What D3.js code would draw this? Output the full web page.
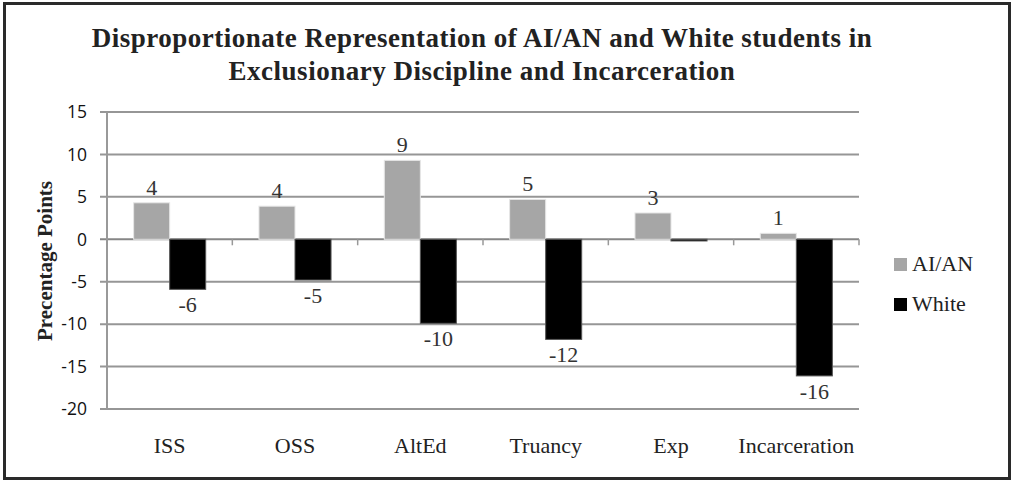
<!DOCTYPE html>
<html>
<head>
<meta charset="utf-8">
<script src="https://cdn.jsdelivr.net/npm/d3@7"></script>
<style>
  body { margin: 0; background: #fff; }
  svg { display: block; }
</style>
</head>
<body>
<svg id="chart" width="1014" height="481"></svg>
<script>
// data
const categories = ["ISS", "OSS", "AltEd", "Truancy", "Exp", "Incarceration"];
const seriesNames = ["AI/AN", "White"];
const aianValues = [4.3, 3.9, 9.3, 4.7, 3.1, 0.7];
const whiteValues = [-5.9, -4.8, -9.9, -11.8, -0.2, -16.1];
const aianLabels = ["4", "4", "9", "5", "3", "1"];
const whiteLabels = ["-6", "-5", "-10", "-12", "", "-16"];
const yTicks = [15, 10, 5, 0, -5, -10, -15, -20];
const seriesColors = ["#a6a6a6", "#000000"];

const serif = "'Liberation Serif', 'DejaVu Serif', serif";
const sans = "'Open Sans', 'Liberation Sans', sans-serif";

const svg = d3.select("#chart");

// outer frame
svg.append("rect")
  .attr("x", 4.5).attr("y", 3.5)
  .attr("width", 1005).attr("height", 475)
  .attr("fill", "#fff")
  .attr("stroke", "#2a2a2a")
  .attr("stroke-width", 3);

const plot = { left: 107, right: 859, top: 112, bottom: 409 };

const y = d3.scaleLinear().domain([-20, 15]).range([plot.bottom, plot.top]);
const x0 = d3.scaleBand().domain(categories).range([plot.left, plot.right]).paddingInner(0.425).paddingOuter(0.2125);
const x1 = d3.scaleBand().domain(seriesNames).range([0, x0.bandwidth()]);

// gridlines
svg.append("g")
  .selectAll("line")
  .data(yTicks)
  .join("line")
  .attr("x1", plot.left - 7)
  .attr("x2", plot.right)
  .attr("y1", d => y(d))
  .attr("y2", d => y(d))
  .attr("stroke", d => d === 0 ? "#868686" : "#969696")
  .attr("stroke-width", 2);

// left axis line
svg.append("line")
  .attr("x1", plot.left).attr("x2", plot.left)
  .attr("y1", plot.top).attr("y2", plot.bottom)
  .attr("stroke", "#999").attr("stroke-width", 2);

// y tick labels
svg.append("g")
  .selectAll("text")
  .data(yTicks)
  .join("text")
  .attr("x", 87)
  .attr("y", d => y(d))
  .attr("dy", "0.36em")
  .attr("text-anchor", "end")
  .style("font-family", sans)
  .style("font-size", "17.5px")
  .style("fill", "#111")
  .text(d => d);

// category ticks on zero line
const step = (plot.right - plot.left) / categories.length;
svg.append("g")
  .selectAll("line")
  .data(d3.range(categories.length + 1))
  .join("line")
  .attr("x1", i => plot.left + i * step)
  .attr("x2", i => plot.left + i * step)
  .attr("y1", y(0))
  .attr("y2", y(0) + 6)
  .attr("stroke", "#999")
  .attr("stroke-width", 1.5);

const rows = categories.map((c, i) => ({
  cat: c,
  vals: [
    { s: "AI/AN", v: aianValues[i], label: aianLabels[i] },
    { s: "White", v: whiteValues[i], label: whiteLabels[i] }
  ]
}));

const groups = svg.append("g")
  .selectAll("g")
  .data(rows)
  .join("g")
  .attr("transform", d => `translate(${x0(d.cat)},0)`);

groups.selectAll("rect")
  .data(d => d.vals)
  .join("rect")
  .attr("x", d => x1(d.s))
  .attr("y", d => y(Math.max(0, d.v)))
  .attr("width", x1.bandwidth())
  .attr("height", d => Math.abs(y(d.v) - y(0)))
  .attr("fill", (d, i) => seriesColors[i])
  .attr("stroke", (d, i) => i === 0 ? "#e6e6e6" : "#555")
  .attr("stroke-width", 1);

// value labels
groups.selectAll("text")
  .data(d => d.vals)
  .join("text")
  .attr("x", d => x1(d.s) + x1.bandwidth() / 2)
  .attr("y", d => d.v >= 0 ? y(d.v) - 8 : y(d.v) + 23)
  .attr("text-anchor", "middle")
  .style("font-family", serif)
  .style("font-size", "22px")
  .style("fill", "#333")
  .text(d => d.label);

// x category labels
svg.append("g")
  .selectAll("text")
  .data(categories)
  .join("text")
  .attr("x", d => x0(d) + x0.bandwidth() / 2)
  .attr("y", 453)
  .attr("text-anchor", "middle")
  .style("font-family", serif)
  .style("font-size", "22px")
  .style("fill", "#222")
  .text(d => d);

// y axis title
svg.append("text")
  .attr("transform", "translate(52,261) rotate(-90)")
  .attr("text-anchor", "middle")
  .style("font-family", serif)
  .style("font-weight", "bold")
  .style("font-size", "21px")
  .style("fill", "#222")
  .text("Precentage Points");

// title
const title = svg.append("text")
  .attr("text-anchor", "middle")
  .style("font-family", serif)
  .style("font-weight", "bold")
  .style("font-size", "27px")
  .style("letter-spacing", "0.5px")
  .style("fill", "#222");
title.append("tspan").attr("x", 482).attr("y", 47)
  .text("Disproportionate Representation of AI/AN and White students in");
title.append("tspan").attr("x", 482).attr("y", 80)
  .text("Exclusionary Discipline and Incarceration");

// legend
const legend = svg.append("g").attr("transform", "translate(894,258)");
legend.selectAll("g")
  .data(seriesNames)
  .join("g")
  .attr("transform", (d, i) => `translate(0,${i * 40})`)
  .call(g => {
    g.append("rect")
      .attr("width", 13).attr("height", 13)
      .attr("fill", (d, i) => seriesColors[i]);
    g.append("text")
      .attr("x", 18).attr("y", 13)
      .style("font-family", serif)
      .style("font-size", "22px")
      .style("fill", "#222")
      .text(d => d);
  });
</script>
</body>
</html>
